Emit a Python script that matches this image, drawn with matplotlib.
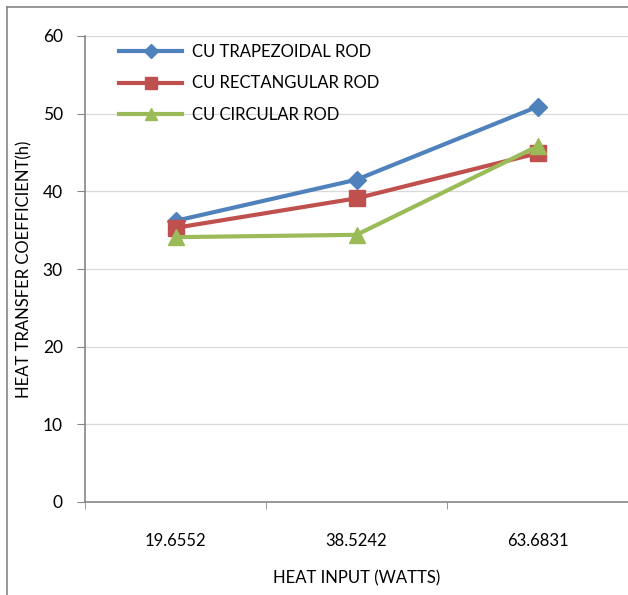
import matplotlib.pyplot as plt
from matplotlib.lines import Line2D
import numpy as np

# data
heatInput = ['19.6552', '38.5242', '63.6831']
trapezoidal = [36.2, 41.5, 50.9]
rectangular = [35.3, 39.1, 44.9]
circular = [34.1, 34.4, 45.8]

plt.rcParams['font.family'] = ['Lato', 'DejaVu Sans']

fig = plt.figure(figsize=(6.28, 5.95), dpi=100)
ax = fig.add_axes([85 / 628, 1 - 502 / 595, 1 - 85 / 628, (502 - 36) / 595])

# outer chart border (left and top visible in the reference)
fig.add_artist(Line2D([7 / 628, 7 / 628], [0, 1 - 7 / 595], color='#868686', lw=1.2))
fig.add_artist(Line2D([7 / 628, 1], [1 - 7 / 595, 1 - 7 / 595], color='#868686', lw=1.2))

x = np.arange(len(heatInput))
ax.plot(x, trapezoidal, color='#4F81BD', lw=3, marker='D', ms=9, label='CU TRAPEZOIDAL ROD')
ax.plot(x, rectangular, color='#C0504D', lw=3, marker='s', ms=11, label='CU RECTANGULAR ROD')
ax.plot(x, circular, color='#9BBB59', lw=3, marker='^', ms=12, label='CU CIRCULAR ROD')

ax.set_xlim(-0.5, 2.5)
ax.set_ylim(0, 60)
ax.set_yticks(range(0, 61, 10))
ax.set_xticks(x)
ax.set_xticklabels(heatInput)
ax.set_xticks([-0.5, 0.5, 1.5, 2.5], minor=True)
ax.tick_params(axis='x', which='major', length=0, pad=22, labelsize=12)
ax.tick_params(axis='x', which='minor', length=5, color='#868686')
ax.tick_params(axis='y', length=6, color='#868686', labelsize=12.5, pad=10)

ax.grid(axis='y', color='#d9d9d9', lw=0.9)
ax.set_axisbelow(True)
for s in ['top', 'right']:
    ax.spines[s].set_visible(False)
for s in ['left', 'bottom']:
    ax.spines[s].set_color('#868686')
    ax.spines[s].set_linewidth(1.2)

ax.set_xlabel('HEAT INPUT (WATTS)', fontsize=12, labelpad=16)
ax.set_ylabel('HEAT TRANSFER COEFFICIENT(h)', fontsize=12, labelpad=7)

ax.legend(loc='upper left', bbox_to_anchor=(0.035, 1.016), frameon=False, fontsize=12,
          handlelength=3.8, labelspacing=0.95, handletextpad=0.55, markerscale=0.75)

fig.savefig('out.png', dpi=100)
